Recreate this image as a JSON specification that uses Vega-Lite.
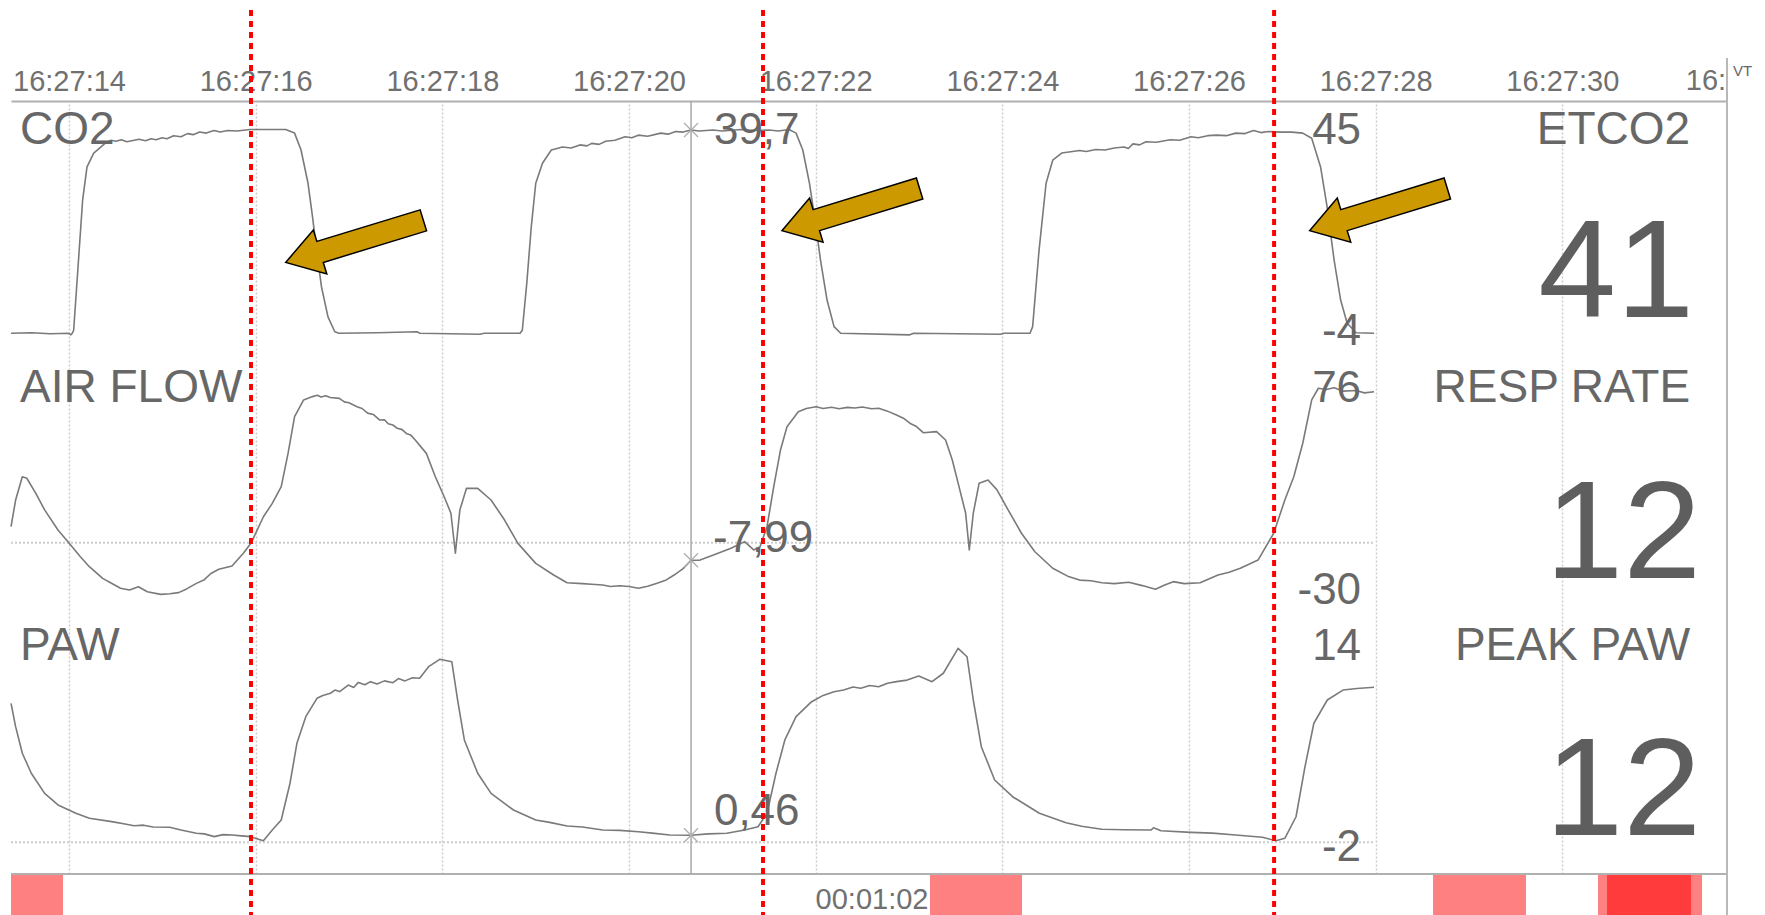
{
  "$schema": "https://vega.github.io/schema/vega-lite/v6.json",
  "width": 1716,
  "height": 773,
  "autosize": {"type": "none"},
  "padding": {"left": 11, "top": 101, "right": 38, "bottom": 41},
  "background": "white",
  "config": {"view": {"stroke": null}},
  "datasets": {
    "co2": [
      {"t":13.379,"v":0},{"t":13.6,"v":0.1},{"t":13.8,"v":-0.1},{"t":14.0,"v":0},{"t":14.021,"v":-0.3},{"t":14.035,"v":0},{"t":14.05,"v":0.6},{"t":14.097,"v":13.0},{"t":14.146,"v":26.0},{"t":14.193,"v":32.5},{"t":14.265,"v":35.2},{"t":14.386,"v":37.1},{"t":14.45,"v":37.7},{"t":14.504,"v":37.5},{"t":14.56,"v":37.8},{"t":14.62,"v":37.4},{"t":14.7,"v":37.7},{"t":14.75,"v":37.9},{"t":14.82,"v":37.6},{"t":14.88,"v":38.0},{"t":14.932,"v":37.8},{"t":15.0,"v":38.2},{"t":15.05,"v":38.0},{"t":15.12,"v":38.6},{"t":15.2,"v":38.4},{"t":15.27,"v":39.0},{"t":15.33,"v":38.8},{"t":15.4,"v":39.3},{"t":15.47,"v":39.1},{"t":15.554,"v":39.6},{"t":15.62,"v":39.3},{"t":15.7,"v":39.6},{"t":15.8,"v":39.5},{"t":15.94,"v":39.8},{"t":16.1,"v":39.8},{"t":16.322,"v":39.8},{"t":16.417,"v":39.1},{"t":16.486,"v":35.8},{"t":16.561,"v":29.3},{"t":16.609,"v":22.8},{"t":16.657,"v":15.7},{"t":16.705,"v":9.1},{"t":16.775,"v":3.2},{"t":16.848,"v":0.3},{"t":16.893,"v":0},{"t":17.3,"v":0.1},{"t":17.729,"v":0.3},{"t":17.76,"v":0},{"t":18.404,"v":-0.2},{"t":18.45,"v":0},{"t":18.833,"v":0},{"t":18.857,"v":0.6},{"t":18.905,"v":9.8},{"t":18.953,"v":20.8},{"t":19.001,"v":29.3},{"t":19.073,"v":33.2},{"t":19.168,"v":35.8},{"t":19.288,"v":36.4},{"t":19.38,"v":36.2},{"t":19.475,"v":36.8},{"t":19.55,"v":36.6},{"t":19.6,"v":37.1},{"t":19.68,"v":36.9},{"t":19.75,"v":37.5},{"t":19.85,"v":37.7},{"t":19.958,"v":38.4},{"t":20.03,"v":38.2},{"t":20.1,"v":38.7},{"t":20.2,"v":38.5},{"t":20.34,"v":39.1},{"t":20.42,"v":38.9},{"t":20.5,"v":39.4},{"t":20.58,"v":39.3},{"t":20.665,"v":39.7},{"t":20.75,"v":39.5},{"t":20.9,"v":39.7},{"t":21.0,"v":39.5},{"t":21.2,"v":39.8},{"t":21.35,"v":39.6},{"t":21.5,"v":39.7},{"t":21.6,"v":39.5},{"t":21.715,"v":39.8},{"t":21.79,"v":39.1},{"t":21.862,"v":35.8},{"t":21.934,"v":29.3},{"t":22.004,"v":20.8},{"t":22.052,"v":14.3},{"t":22.122,"v":6.5},{"t":22.197,"v":1.3},{"t":22.268,"v":0},{"t":23.009,"v":-0.3},{"t":23.05,"v":0},{"t":23.98,"v":-0.2},{"t":24.02,"v":0},{"t":24.297,"v":0},{"t":24.325,"v":1.3},{"t":24.394,"v":16.3},{"t":24.469,"v":29.3},{"t":24.54,"v":33.8},{"t":24.636,"v":35.2},{"t":24.828,"v":35.7},{"t":24.9,"v":35.5},{"t":25.0,"v":35.9},{"t":25.1,"v":35.8},{"t":25.2,"v":36.2},{"t":25.304,"v":36.4},{"t":25.35,"v":36.1},{"t":25.4,"v":37.0},{"t":25.47,"v":36.8},{"t":25.54,"v":37.4},{"t":25.65,"v":37.3},{"t":25.8,"v":37.8},{"t":25.9,"v":37.7},{"t":26.022,"v":38.4},{"t":26.1,"v":38.2},{"t":26.2,"v":38.6},{"t":26.3,"v":38.7},{"t":26.4,"v":38.6},{"t":26.501,"v":39.1},{"t":26.6,"v":39.0},{"t":26.693,"v":39.6},{"t":26.77,"v":39.2},{"t":26.85,"v":39.4},{"t":26.976,"v":39.3},{"t":27.1,"v":39.3},{"t":27.219,"v":39.1},{"t":27.315,"v":38.1},{"t":27.41,"v":32.5},{"t":27.48,"v":24.7},{"t":27.555,"v":14.3},{"t":27.625,"v":6.5},{"t":27.694,"v":2.0},{"t":27.79,"v":0.1},{"t":27.983,"v":0}
    ],
    "flow": [
      {"t":13.379,"v":7.3},{"t":13.428,"v":19.4},{"t":13.5,"v":30.0},{"t":13.548,"v":29.3},{"t":13.643,"v":22.5},{"t":13.739,"v":14.9},{"t":13.882,"v":5.8},{"t":14.002,"v":-0.3},{"t":14.122,"v":-6.4},{"t":14.218,"v":-10.9},{"t":14.361,"v":-16.2},{"t":14.45,"v":-18.3},{"t":14.552,"v":-20.7},{"t":14.648,"v":-21.5},{"t":14.744,"v":-20.0},{"t":14.839,"v":-22.3},{"t":14.983,"v":-23.5},{"t":15.08,"v":-23.2},{"t":15.174,"v":-22.7},{"t":15.26,"v":-21.0},{"t":15.365,"v":-18.5},{"t":15.45,"v":-16.8},{"t":15.52,"v":-14.0},{"t":15.605,"v":-12.1},{"t":15.747,"v":-10.6},{"t":15.868,"v":-4.8},{"t":15.953,"v":0},{"t":16.083,"v":11.8},{"t":16.178,"v":17.9},{"t":16.274,"v":25.5},{"t":16.347,"v":40.6},{"t":16.417,"v":57.3},{"t":16.514,"v":64.9},{"t":16.609,"v":66.4},{"t":16.66,"v":67.0},{"t":16.7,"v":66.2},{"t":16.75,"v":66.8},{"t":16.8,"v":66.0},{"t":16.896,"v":65.6},{"t":16.95,"v":64.0},{"t":17.0,"v":63.6},{"t":17.086,"v":61.8},{"t":17.14,"v":61.0},{"t":17.2,"v":58.9},{"t":17.26,"v":58.3},{"t":17.327,"v":55.8},{"t":17.38,"v":55.9},{"t":17.42,"v":54.1},{"t":17.47,"v":53.5},{"t":17.518,"v":52.0},{"t":17.57,"v":51.4},{"t":17.62,"v":49.5},{"t":17.66,"v":49.0},{"t":17.71,"v":46.7},{"t":17.829,"v":40.6},{"t":17.925,"v":30.0},{"t":18.02,"v":20.9},{"t":18.092,"v":13.4},{"t":18.14,"v":-4.8},{"t":18.188,"v":14.9},{"t":18.259,"v":24.7},{"t":18.379,"v":24.7},{"t":18.522,"v":19.4},{"t":18.667,"v":10.3},{"t":18.81,"v":-0.3},{"t":19.001,"v":-9.4},{"t":19.193,"v":-14.7},{"t":19.336,"v":-18.2},{"t":19.5,"v":-18.6},{"t":19.6,"v":-18.9},{"t":19.719,"v":-19.2},{"t":19.8,"v":-19.9},{"t":19.9,"v":-19.6},{"t":20.0,"v":-19.9},{"t":20.101,"v":-20.7},{"t":20.2,"v":-19.8},{"t":20.293,"v":-18.5},{"t":20.4,"v":-16.9},{"t":20.483,"v":-14.7},{"t":20.58,"v":-11.8},{"t":20.665,"v":-7.99},{"t":20.761,"v":-7.9},{"t":20.905,"v":-5.6},{"t":21.093,"v":-2.5},{"t":21.239,"v":0.5},{"t":21.336,"v":-3.3},{"t":21.404,"v":-1.8},{"t":21.479,"v":7.3},{"t":21.551,"v":25.5},{"t":21.623,"v":42.1},{"t":21.693,"v":52.7},{"t":21.814,"v":59.5},{"t":21.9,"v":61.0},{"t":22.004,"v":61.8},{"t":22.08,"v":61.0},{"t":22.17,"v":61.6},{"t":22.25,"v":60.9},{"t":22.34,"v":61.5},{"t":22.42,"v":61.2},{"t":22.5,"v":61.7},{"t":22.6,"v":60.9},{"t":22.675,"v":61.1},{"t":22.77,"v":59.8},{"t":22.866,"v":58.0},{"t":22.94,"v":56.6},{"t":23.009,"v":54.3},{"t":23.08,"v":52.8},{"t":23.153,"v":50.0},{"t":23.296,"v":50.5},{"t":23.392,"v":46.7},{"t":23.464,"v":37.6},{"t":23.536,"v":25.5},{"t":23.607,"v":13.4},{"t":23.646,"v":-3.3},{"t":23.689,"v":13.4},{"t":23.751,"v":27.0},{"t":23.847,"v":28.5},{"t":23.943,"v":24.0},{"t":24.062,"v":14.9},{"t":24.205,"v":4.3},{"t":24.349,"v":-4.1},{"t":24.54,"v":-11.6},{"t":24.7,"v":-15.2},{"t":24.828,"v":-17.0},{"t":24.95,"v":-17.3},{"t":25.067,"v":-18.2},{"t":25.2,"v":-18.6},{"t":25.354,"v":-18.0},{"t":25.5,"v":-19.5},{"t":25.641,"v":-21.2},{"t":25.74,"v":-19.2},{"t":25.832,"v":-17.7},{"t":25.95,"v":-18.6},{"t":26.119,"v":-18.2},{"t":26.311,"v":-14.7},{"t":26.43,"v":-13.4},{"t":26.55,"v":-11.6},{"t":26.74,"v":-7.9},{"t":26.908,"v":4.3},{"t":27.027,"v":19.4},{"t":27.123,"v":30.0},{"t":27.219,"v":45.2},{"t":27.315,"v":64.9},{"t":27.386,"v":70.2},{"t":27.47,"v":69.6},{"t":27.555,"v":70.4},{"t":27.65,"v":68.9},{"t":27.79,"v":69.2},{"t":27.88,"v":68.1},{"t":27.983,"v":68.6}
    ],
    "paw": [
      {"t":13.379,"v":9.08},{"t":13.428,"v":7.56},{"t":13.5,"v":5.82},{"t":13.596,"v":4.51},{"t":13.739,"v":3.2},{"t":13.882,"v":2.44},{"t":14.074,"v":1.9},{"t":14.218,"v":1.57},{"t":14.457,"v":1.35},{"t":14.6,"v":1.2},{"t":14.697,"v":1.08},{"t":14.8,"v":1.12},{"t":14.9,"v":1.0},{"t":15.078,"v":0.98},{"t":15.2,"v":0.8},{"t":15.365,"v":0.59},{"t":15.45,"v":0.55},{"t":15.557,"v":0.37},{"t":15.65,"v":0.5},{"t":15.747,"v":0.48},{"t":15.85,"v":0.42},{"t":15.94,"v":0.37},{"t":16.083,"v":0.1},{"t":16.178,"v":0.8},{"t":16.274,"v":1.46},{"t":16.368,"v":3.86},{"t":16.442,"v":6.47},{"t":16.537,"v":8.21},{"t":16.657,"v":9.41},{"t":16.72,"v":9.6},{"t":16.801,"v":9.74},{"t":16.85,"v":9.95},{"t":16.9,"v":9.85},{"t":16.992,"v":10.28},{"t":17.05,"v":10.12},{"t":17.1,"v":10.45},{"t":17.17,"v":10.3},{"t":17.231,"v":10.5},{"t":17.3,"v":10.35},{"t":17.38,"v":10.55},{"t":17.471,"v":10.43},{"t":17.53,"v":10.7},{"t":17.6,"v":10.55},{"t":17.68,"v":10.75},{"t":17.757,"v":10.72},{"t":17.853,"v":11.48},{"t":17.972,"v":11.96},{"t":18.102,"v":11.8},{"t":18.164,"v":9.3},{"t":18.236,"v":6.69},{"t":18.379,"v":4.51},{"t":18.522,"v":3.2},{"t":18.762,"v":2.11},{"t":19.001,"v":1.46},{"t":19.15,"v":1.3},{"t":19.336,"v":1.07},{"t":19.5,"v":1.0},{"t":19.719,"v":0.8},{"t":19.9,"v":0.78},{"t":20.101,"v":0.69},{"t":20.25,"v":0.6},{"t":20.436,"v":0.48},{"t":20.665,"v":0.46},{"t":20.85,"v":0.55},{"t":21.048,"v":0.59},{"t":21.239,"v":0.8},{"t":21.383,"v":1.02},{"t":21.479,"v":1.9},{"t":21.575,"v":4.51},{"t":21.67,"v":6.69},{"t":21.79,"v":8.21},{"t":21.957,"v":9.19},{"t":22.08,"v":9.6},{"t":22.197,"v":9.84},{"t":22.3,"v":9.95},{"t":22.4,"v":10.15},{"t":22.483,"v":10.07},{"t":22.58,"v":10.25},{"t":22.675,"v":10.17},{"t":22.77,"v":10.4},{"t":22.866,"v":10.5},{"t":22.98,"v":10.6},{"t":23.105,"v":10.87},{"t":23.247,"v":10.5},{"t":23.368,"v":11.05},{"t":23.526,"v":12.68},{"t":23.622,"v":12.13},{"t":23.689,"v":9.3},{"t":23.775,"v":6.25},{"t":23.918,"v":4.07},{"t":24.11,"v":2.98},{"t":24.397,"v":1.9},{"t":24.683,"v":1.28},{"t":24.85,"v":1.05},{"t":25.067,"v":0.85},{"t":25.3,"v":0.82},{"t":25.593,"v":0.8},{"t":25.62,"v":0.95},{"t":25.7,"v":0.75},{"t":26.022,"v":0.65},{"t":26.25,"v":0.6},{"t":26.501,"v":0.48},{"t":26.788,"v":0.33},{"t":26.932,"v":0.1},{"t":27.027,"v":0.26},{"t":27.147,"v":1.67},{"t":27.243,"v":4.94},{"t":27.338,"v":7.78},{"t":27.482,"v":9.3},{"t":27.65,"v":9.95},{"t":27.8,"v":10.05},{"t":27.983,"v":10.13}
    ]
  },
  "resolve": {"scale": {"y": "independent"}},
  "layer": [
    {
      "layer": [
        {
          "data": {"name": "co2"},
          "mark": {"type": "line", "color": "#7a7a7a", "strokeWidth": 1.6, "strokeJoin": "round"},
          "encoding": {
            "x": {"field": "t", "type": "quantitative", "title": null, "scale": {"domain": [13.3786, 31.7646], "nice": false, "zero": false},
              "axis": {"orient": "top", "title": null, "values": [14, 16, 18, 20, 22, 24, 26, 28, 30],
                "labelExpr": "'16:27:' + datum.value", "domain": true, "domainColor": "#b0b0b0", "domainWidth": 2,
                "ticks": false, "tickSize": 0, "labelPadding": 11, "labelBaseline": "alphabetic",
                "labelFont": "Liberation Sans", "labelFontSize": 29, "labelColor": "#707070",
                "labelFlush": false, "labelOverlap": false, "labelBound": false,
                "grid": true, "gridColor": "#cccccc", "gridDash": [2, 2], "gridWidth": 1.5}},
            "y": {"field": "v", "type": "quantitative", "scale": {"domain": [-105.605, 45.371], "nice": false, "zero": false}, "axis": null}
          }
        },
        {
          "data": {"values": [{"t": 13.475, "v": 36.97, "s": "CO2"}]},
          "mark": {"type": "text", "font": "Liberation Sans", "fontSize": 46, "align": "left", "baseline": "alphabetic", "color": "#676767"},
          "encoding": {
            "x": {"field": "t", "type": "quantitative", "title": null, "scale": {"domain": [13.3786, 31.7646], "nice": false, "zero": false}},
            "y": {"field": "v", "type": "quantitative", "scale": {"domain": [-105.605, 45.371], "nice": false, "zero": false}, "axis": null},
            "text": {"field": "s", "type": "nominal"}
          }
        },
        {
          "data": {"values": [{"t": 20.91, "v": 36.97, "s": "39,7"}]},
          "mark": {"type": "text", "font": "Liberation Sans", "fontSize": 44, "align": "left", "baseline": "alphabetic", "color": "#676767"},
          "encoding": {
            "x": {"field": "t", "type": "quantitative", "title": null, "scale": {"domain": [13.3786, 31.7646], "nice": false, "zero": false}},
            "y": {"field": "v", "type": "quantitative", "scale": {"domain": [-105.605, 45.371], "nice": false, "zero": false}, "axis": null},
            "text": {"field": "s", "type": "nominal"}
          }
        },
        {
          "data": {"values": [{"t": 31.369, "v": 36.97, "s": "ETCO2"}]},
          "mark": {"type": "text", "font": "Liberation Sans", "fontSize": 46, "align": "right", "baseline": "alphabetic", "color": "#676767"},
          "encoding": {
            "x": {"field": "t", "type": "quantitative", "title": null, "scale": {"domain": [13.3786, 31.7646], "nice": false, "zero": false}},
            "y": {"field": "v", "type": "quantitative", "scale": {"domain": [-105.605, 45.371], "nice": false, "zero": false}, "axis": null},
            "text": {"field": "s", "type": "nominal"}
          }
        },
        {
          "data": {"values": [{"t": 27.844, "v": 36.97, "s": "45"}, {"t": 27.844, "v": -2.29, "s": "-4"}]},
          "mark": {"type": "text", "font": "Liberation Sans", "fontSize": 44, "align": "right", "baseline": "alphabetic", "color": "#676767"},
          "encoding": {
            "x": {"field": "t", "type": "quantitative", "title": null, "scale": {"domain": [13.3786, 31.7646], "nice": false, "zero": false}},
            "y": {"field": "v", "type": "quantitative", "scale": {"domain": [-105.605, 45.371], "nice": false, "zero": false}, "axis": null},
            "text": {"field": "s", "type": "nominal"}
          }
        },
        {
          "data": {"values": [{"t": 31.412, "v": 3.2, "s": "41"}]},
          "mark": {"type": "text", "font": "Liberation Sans", "fontSize": 140, "align": "right", "baseline": "alphabetic", "color": "#5e5e5e"},
          "encoding": {
            "x": {"field": "t", "type": "quantitative", "title": null, "scale": {"domain": [13.3786, 31.7646], "nice": false, "zero": false}},
            "y": {"field": "v", "type": "quantitative", "scale": {"domain": [-105.605, 45.371], "nice": false, "zero": false}, "axis": null},
            "text": {"field": "s", "type": "nominal"}
          }
        },
        {
          "data": {"values": [{"t": 31.755, "v": 47.52, "s": "16:"}]},
          "mark": {"type": "text", "font": "Liberation Sans", "fontSize": 29, "align": "right", "baseline": "alphabetic", "color": "#707070"},
          "encoding": {
            "x": {"field": "t", "type": "quantitative", "title": null, "scale": {"domain": [13.3786, 31.7646], "nice": false, "zero": false}},
            "y": {"field": "v", "type": "quantitative", "scale": {"domain": [-105.605, 45.371], "nice": false, "zero": false}, "axis": null},
            "text": {"field": "s", "type": "nominal"}
          }
        },
        {
          "data": {"values": [{"t": 31.83, "v": 50.25, "s": "VT"}]},
          "mark": {"type": "text", "font": "Liberation Sans", "fontSize": 15, "align": "left", "baseline": "alphabetic", "color": "#666666"},
          "encoding": {
            "x": {"field": "t", "type": "quantitative", "title": null, "scale": {"domain": [13.3786, 31.7646], "nice": false, "zero": false}},
            "y": {"field": "v", "type": "quantitative", "scale": {"domain": [-105.605, 45.371], "nice": false, "zero": false}, "axis": null},
            "text": {"field": "s", "type": "nominal"}
          }
        },
        {
          "data": {"values": [{"t": 20.665, "v": 39.7}]},
          "mark": {"type": "point", "shape": "M-1,-1L1,1M-1,1L1,-1", "size": 196, "filled": false, "stroke": "#b0b0b0", "strokeWidth": 1.3, "opacity": 1},
          "encoding": {
            "x": {"field": "t", "type": "quantitative", "title": null, "scale": {"domain": [13.3786, 31.7646], "nice": false, "zero": false}},
            "y": {"field": "v", "type": "quantitative", "scale": {"domain": [-105.605, 45.371], "nice": false, "zero": false}, "axis": null}
          }
        },
        {
          "data": {"values": [{"t": 17.059, "v": 17.95}, {"t": 22.376, "v": 24.16}, {"t": 28.03, "v": 24.16}]},
          "mark": {"type": "point", "shape": "M-72,0L-36,-23L-36,-11L72,-11L72,11L-36,11L-36,23Z", "size": 4, "angle": -17, "filled": true, "fill": "#CC9900", "stroke": "#000000", "strokeWidth": 1.5, "opacity": 1},
          "encoding": {
            "x": {"field": "t", "type": "quantitative", "title": null, "scale": {"domain": [13.3786, 31.7646], "nice": false, "zero": false}},
            "y": {"field": "v", "type": "quantitative", "scale": {"domain": [-105.605, 45.371], "nice": false, "zero": false}, "axis": null}
          }
        }
      ]
    },
    {
      "layer": [
        {
          "data": {"values": [{"t": 13.3786, "t2": 27.983, "v": 0}]},
          "mark": {"type": "rule", "color": "#cccccc", "strokeWidth": 2, "strokeDash": [2, 2]},
          "encoding": {
            "x": {"field": "t", "type": "quantitative", "title": null, "scale": {"domain": [13.3786, 31.7646], "nice": false, "zero": false}},
            "x2": {"field": "t2"},
            "y": {"field": "v", "type": "quantitative", "scale": {"domain": [-150.591, 200.773], "nice": false, "zero": false}, "axis": null}
          }
        },
        {
          "data": {"name": "flow"},
          "mark": {"type": "line", "color": "#7a7a7a", "strokeWidth": 1.6, "strokeJoin": "round"},
          "encoding": {
            "x": {"field": "t", "type": "quantitative", "title": null, "scale": {"domain": [13.3786, 31.7646], "nice": false, "zero": false}},
            "y": {"field": "v", "type": "quantitative", "scale": {"domain": [-150.591, 200.773], "nice": false, "zero": false}, "axis": null}
          }
        },
        {
          "data": {"values": [{"t": 13.475, "v": 63.95, "s": "AIR FLOW"}]},
          "mark": {"type": "text", "font": "Liberation Sans", "fontSize": 46, "align": "left", "baseline": "alphabetic", "color": "#676767"},
          "encoding": {
            "x": {"field": "t", "type": "quantitative", "title": null, "scale": {"domain": [13.3786, 31.7646], "nice": false, "zero": false}},
            "y": {"field": "v", "type": "quantitative", "scale": {"domain": [-150.591, 200.773], "nice": false, "zero": false}, "axis": null},
            "text": {"field": "s", "type": "nominal"}
          }
        },
        {
          "data": {"values": [{"t": 20.9, "v": -4.23, "s": "-7,99"}]},
          "mark": {"type": "text", "font": "Liberation Sans", "fontSize": 44, "align": "left", "baseline": "alphabetic", "color": "#676767"},
          "encoding": {
            "x": {"field": "t", "type": "quantitative", "title": null, "scale": {"domain": [13.3786, 31.7646], "nice": false, "zero": false}},
            "y": {"field": "v", "type": "quantitative", "scale": {"domain": [-150.591, 200.773], "nice": false, "zero": false}, "axis": null},
            "text": {"field": "s", "type": "nominal"}
          }
        },
        {
          "data": {"values": [{"t": 31.369, "v": 63.95, "s": "RESP RATE"}]},
          "mark": {"type": "text", "font": "Liberation Sans", "fontSize": 46, "align": "right", "baseline": "alphabetic", "color": "#676767"},
          "encoding": {
            "x": {"field": "t", "type": "quantitative", "title": null, "scale": {"domain": [13.3786, 31.7646], "nice": false, "zero": false}},
            "y": {"field": "v", "type": "quantitative", "scale": {"domain": [-150.591, 200.773], "nice": false, "zero": false}, "axis": null},
            "text": {"field": "s", "type": "nominal"}
          }
        },
        {
          "data": {"values": [{"t": 27.844, "v": 63.95, "s": "76"}, {"t": 27.844, "v": -28.09, "s": "-30"}]},
          "mark": {"type": "text", "font": "Liberation Sans", "fontSize": 44, "align": "right", "baseline": "alphabetic", "color": "#676767"},
          "encoding": {
            "x": {"field": "t", "type": "quantitative", "title": null, "scale": {"domain": [13.3786, 31.7646], "nice": false, "zero": false}},
            "y": {"field": "v", "type": "quantitative", "scale": {"domain": [-150.591, 200.773], "nice": false, "zero": false}, "axis": null},
            "text": {"field": "s", "type": "nominal"}
          }
        },
        {
          "data": {"values": [{"t": 31.487, "v": -15.82, "s": "12"}]},
          "mark": {"type": "text", "font": "Liberation Sans", "fontSize": 140, "align": "right", "baseline": "alphabetic", "color": "#5e5e5e"},
          "encoding": {
            "x": {"field": "t", "type": "quantitative", "title": null, "scale": {"domain": [13.3786, 31.7646], "nice": false, "zero": false}},
            "y": {"field": "v", "type": "quantitative", "scale": {"domain": [-150.591, 200.773], "nice": false, "zero": false}, "axis": null},
            "text": {"field": "s", "type": "nominal"}
          }
        },
        {
          "data": {"values": [{"t": 20.665, "v": -7.99}]},
          "mark": {"type": "point", "shape": "M-1,-1L1,1M-1,1L1,-1", "size": 196, "filled": false, "stroke": "#b0b0b0", "strokeWidth": 1.3, "opacity": 1},
          "encoding": {
            "x": {"field": "t", "type": "quantitative", "title": null, "scale": {"domain": [13.3786, 31.7646], "nice": false, "zero": false}},
            "y": {"field": "v", "type": "quantitative", "scale": {"domain": [-150.591, 200.773], "nice": false, "zero": false}, "axis": null}
          }
        }
      ]
    },
    {
      "layer": [
        {
          "data": {"values": [{"t": 13.3786, "t2": 27.983, "v": 0}]},
          "mark": {"type": "rule", "color": "#cccccc", "strokeWidth": 2, "strokeDash": [2, 2]},
          "encoding": {
            "x": {"field": "t", "type": "quantitative", "title": null, "scale": {"domain": [13.3786, 31.7646], "nice": false, "zero": false}},
            "x2": {"field": "t2"},
            "y": {"field": "v", "type": "quantitative", "scale": {"domain": [-2.072, 48.451], "nice": false, "zero": false}, "axis": null}
          }
        },
        {
          "data": {"name": "paw"},
          "mark": {"type": "line", "color": "#7a7a7a", "strokeWidth": 1.6, "strokeJoin": "round"},
          "encoding": {
            "x": {"field": "t", "type": "quantitative", "title": null, "scale": {"domain": [13.3786, 31.7646], "nice": false, "zero": false}},
            "y": {"field": "v", "type": "quantitative", "scale": {"domain": [-2.072, 48.451], "nice": false, "zero": false}, "axis": null}
          }
        },
        {
          "data": {"values": [{"t": 13.3786, "t2": 13.936}, {"t": 23.225, "t2": 24.211}, {"t": 28.615, "t2": 29.611}, {"t": 30.383, "t2": 31.497}]},
          "mark": {"type": "rect", "color": "#FF8080", "opacity": 1},
          "encoding": {
            "x": {"field": "t", "type": "quantitative", "title": null, "scale": {"domain": [13.3786, 31.7646], "nice": false, "zero": false}},
            "x2": {"field": "t2"},
            "y": {"datum": -2.13, "type": "quantitative", "scale": {"domain": [-2.072, 48.451], "nice": false, "zero": false}, "axis": null},
            "y2": {"datum": -4.752}
          }
        },
        {
          "data": {"values": [{"t": 30.479, "t2": 31.379}]},
          "mark": {"type": "rect", "color": "#FF3B3B", "opacity": 1},
          "encoding": {
            "x": {"field": "t", "type": "quantitative", "title": null, "scale": {"domain": [13.3786, 31.7646], "nice": false, "zero": false}},
            "x2": {"field": "t2"},
            "y": {"datum": -2.13, "type": "quantitative", "scale": {"domain": [-2.072, 48.451], "nice": false, "zero": false}, "axis": null},
            "y2": {"datum": -4.752}
          }
        },
        {
          "data": {"values": [{"v": -2.072}]},
          "mark": {"type": "rule", "color": "#b0b0b0", "strokeWidth": 2},
          "encoding": {
            "y": {"field": "v", "type": "quantitative", "scale": {"domain": [-2.072, 48.451], "nice": false, "zero": false}, "axis": null}
          }
        },
        {
          "data": {"values": [{"t": 31.7646, "v": 51.26, "v2": -4.752}]},
          "mark": {"type": "rule", "color": "#b8b8b8", "strokeWidth": 2},
          "encoding": {
            "x": {"field": "t", "type": "quantitative", "title": null, "scale": {"domain": [13.3786, 31.7646], "nice": false, "zero": false}},
            "y": {"field": "v", "type": "quantitative", "scale": {"domain": [-2.072, 48.451], "nice": false, "zero": false}, "axis": null},
            "y2": {"field": "v2"}
          }
        },
        {
          "data": {"values": [{"t": 20.665}]},
          "mark": {"type": "rule", "color": "#a8a8a8", "strokeWidth": 1.5},
          "encoding": {
            "x": {"field": "t", "type": "quantitative", "title": null, "scale": {"domain": [13.3786, 31.7646], "nice": false, "zero": false}}
          }
        },
        {
          "data": {"values": [{"t": 13.475, "v": 11.92, "s": "PAW"}]},
          "mark": {"type": "text", "font": "Liberation Sans", "fontSize": 46, "align": "left", "baseline": "alphabetic", "color": "#676767"},
          "encoding": {
            "x": {"field": "t", "type": "quantitative", "title": null, "scale": {"domain": [13.3786, 31.7646], "nice": false, "zero": false}},
            "y": {"field": "v", "type": "quantitative", "scale": {"domain": [-2.072, 48.451], "nice": false, "zero": false}, "axis": null},
            "text": {"field": "s", "type": "nominal"}
          }
        },
        {
          "data": {"values": [{"t": 20.91, "v": 1.13, "s": "0,46"}]},
          "mark": {"type": "text", "font": "Liberation Sans", "fontSize": 44, "align": "left", "baseline": "alphabetic", "color": "#676767"},
          "encoding": {
            "x": {"field": "t", "type": "quantitative", "title": null, "scale": {"domain": [13.3786, 31.7646], "nice": false, "zero": false}},
            "y": {"field": "v", "type": "quantitative", "scale": {"domain": [-2.072, 48.451], "nice": false, "zero": false}, "axis": null},
            "text": {"field": "s", "type": "nominal"}
          }
        },
        {
          "data": {"values": [{"t": 31.369, "v": 11.92, "s": "PEAK PAW"}]},
          "mark": {"type": "text", "font": "Liberation Sans", "fontSize": 46, "align": "right", "baseline": "alphabetic", "color": "#676767"},
          "encoding": {
            "x": {"field": "t", "type": "quantitative", "title": null, "scale": {"domain": [13.3786, 31.7646], "nice": false, "zero": false}},
            "y": {"field": "v", "type": "quantitative", "scale": {"domain": [-2.072, 48.451], "nice": false, "zero": false}, "axis": null},
            "text": {"field": "s", "type": "nominal"}
          }
        },
        {
          "data": {"values": [{"t": 27.844, "v": 11.92, "s": "14"}, {"t": 27.844, "v": -1.22, "s": "-2"}]},
          "mark": {"type": "text", "font": "Liberation Sans", "fontSize": 44, "align": "right", "baseline": "alphabetic", "color": "#676767"},
          "encoding": {
            "x": {"field": "t", "type": "quantitative", "title": null, "scale": {"domain": [13.3786, 31.7646], "nice": false, "zero": false}},
            "y": {"field": "v", "type": "quantitative", "scale": {"domain": [-2.072, 48.451], "nice": false, "zero": false}, "axis": null},
            "text": {"field": "s", "type": "nominal"}
          }
        },
        {
          "data": {"values": [{"t": 31.487, "v": 0.48, "s": "12"}]},
          "mark": {"type": "text", "font": "Liberation Sans", "fontSize": 140, "align": "right", "baseline": "alphabetic", "color": "#5e5e5e"},
          "encoding": {
            "x": {"field": "t", "type": "quantitative", "title": null, "scale": {"domain": [13.3786, 31.7646], "nice": false, "zero": false}},
            "y": {"field": "v", "type": "quantitative", "scale": {"domain": [-2.072, 48.451], "nice": false, "zero": false}, "axis": null},
            "text": {"field": "s", "type": "nominal"}
          }
        },
        {
          "data": {"values": [{"t": 22.604, "v": -4.39, "s": "00:01:02"}]},
          "mark": {"type": "text", "font": "Liberation Sans", "fontSize": 29, "align": "center", "baseline": "alphabetic", "color": "#707070"},
          "encoding": {
            "x": {"field": "t", "type": "quantitative", "title": null, "scale": {"domain": [13.3786, 31.7646], "nice": false, "zero": false}},
            "y": {"field": "v", "type": "quantitative", "scale": {"domain": [-2.072, 48.451], "nice": false, "zero": false}, "axis": null},
            "text": {"field": "s", "type": "nominal"}
          }
        },
        {
          "data": {"values": [{"t": 20.665, "v": 0.46}]},
          "mark": {"type": "point", "shape": "M-1,-1L1,1M-1,1L1,-1", "size": 196, "filled": false, "stroke": "#b0b0b0", "strokeWidth": 1.3, "opacity": 1},
          "encoding": {
            "x": {"field": "t", "type": "quantitative", "title": null, "scale": {"domain": [13.3786, 31.7646], "nice": false, "zero": false}},
            "y": {"field": "v", "type": "quantitative", "scale": {"domain": [-2.072, 48.451], "nice": false, "zero": false}, "axis": null}
          }
        },
        {
          "data": {"values": [{"t": 15.95, "v": 54.4, "v2": -4.752}, {"t": 21.436, "v": 54.4, "v2": -4.752}, {"t": 26.912, "v": 54.4, "v2": -4.752}]},
          "mark": {"type": "rule", "color": "#FF0000", "strokeWidth": 4, "strokeDash": [6, 5]},
          "encoding": {
            "x": {"field": "t", "type": "quantitative", "title": null, "scale": {"domain": [13.3786, 31.7646], "nice": false, "zero": false}},
            "y": {"field": "v", "type": "quantitative", "scale": {"domain": [-2.072, 48.451], "nice": false, "zero": false}, "axis": null},
            "y2": {"field": "v2"}
          }
        }
      ]
    }
  ]
}
